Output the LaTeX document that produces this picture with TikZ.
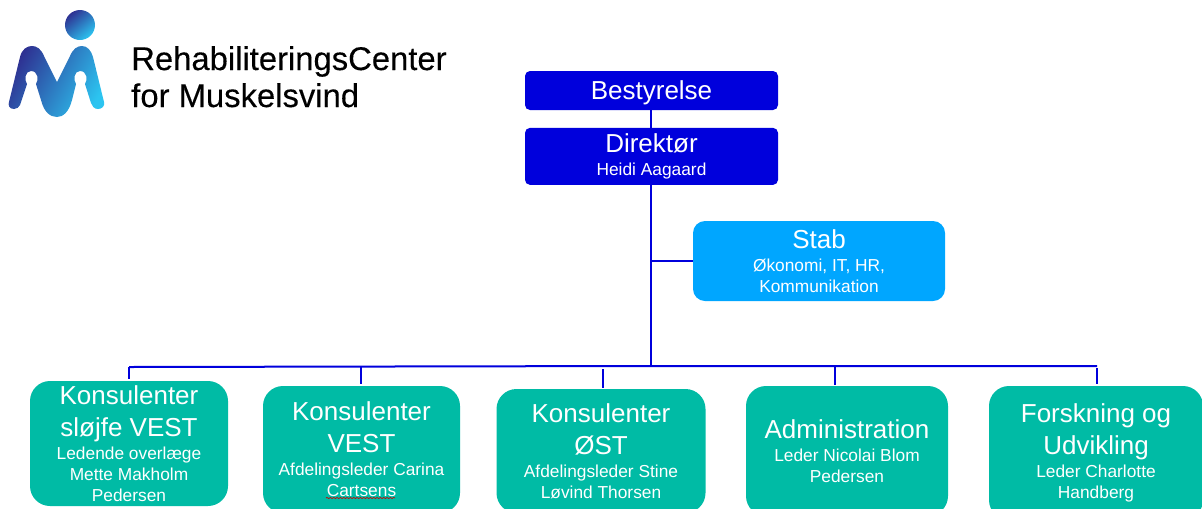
\documentclass[tikz,border=0pt]{standalone}
\usepackage{xcolor}
\usepackage{fontspec}
\setmainfont{Liberation Sans}
\newfontfamily\logofont[FakeBold=0.25]{Liberation Sans}
\usetikzlibrary{positioning,decorations.pathmorphing}

\definecolor{boardblue}{HTML}{0000DC}
\definecolor{stabblue}{HTML}{00A6FF}
\definecolor{deptteal}{HTML}{00BBA5}
\definecolor{logodark}{HTML}{2E3192}
\definecolor{logomid}{HTML}{1F7CC0}
\definecolor{logolight}{HTML}{2CC4F0}

\newcommand{\headfont}{\fontsize{19.5}{24}\selectfont}
\newcommand{\subfont}{\fontsize{13}{15.75}\selectfont}

\begin{document}
\begin{tikzpicture}[
    x=0.75pt, y=-0.75pt,
    topbox/.style={rectangle, fill=boardblue, text=white, rounded corners=3.75pt, minimum width=189.75pt, inner sep=0pt, align=center, font=\subfont},
    stabbox/.style={rectangle, fill=stabblue, text=white, rounded corners=9pt, minimum width=189pt, minimum height=60pt, inner sep=0pt, align=center, font=\subfont},
    deptbox/.style={rectangle, fill=deptteal, text=white, rounded corners=15pt, inner sep=0pt, align=center, font=\subfont},
    orgline/.style={draw=boardblue, line width=1.5pt},
    logotext/.style={anchor=base west, inner sep=0pt, font=\logofont\fontsize{24.6}{28}\selectfont}
]
\useasboundingbox (0,0) rectangle (1202,508);
\clip (0,0) rectangle (1202,508);

% logo
\shade[top color=logodark, bottom color=logolight, shading angle=40] (80,25) circle (15);
\shade[top color=logodark, middle color=logomid, bottom color=logolight, shading angle=60]
    (14,109) .. controls (9,109) and (8,105) .. (9,102)
    -- (20,57) .. controls (22,49) and (27,46) .. (32,46)
    .. controls (37,46) and (41,49) .. (44,56)
    -- (57,82) -- (70,56)
    .. controls (73,49) and (77,46) .. (82,46)
    .. controls (87,46) and (91,50) .. (93,57)
    -- (104,102) .. controls (105,106) and (102,109) .. (98,109)
    .. controls (94,109) and (92,106) .. (91,103)
    -- (85,84) .. controls (88,80) and (87,71) .. (80,71)
    .. controls (74,71) and (73,80) .. (76,84)
    -- (72,100) .. controls (69,112) and (63,117) .. (57,117)
    .. controls (50,117) and (44,112) .. (41,100)
    -- (36,84) .. controls (39,80) and (38,71) .. (31,71)
    .. controls (25,71) and (24,80) .. (27,84)
    -- (20,105) .. controls (19,107) and (17,109) .. (14,109) -- cycle;
\node[logotext] (logoa) at (131,70) {RehabiliteringsCenter};
\node[logotext] (logob) at (131,107) {for Muskelsvind};

% boxes
\node[topbox, minimum height=29.25pt, text depth=0pt] (bestyrelse) at (651.5,90.5) {\headfont Bestyrelse};
\node[topbox, minimum height=42.75pt, below=13pt of bestyrelse] (direktor) {\headfont Direktør\\[1.5pt]\subfont Heidi Aagaard};
\node[stabbox] (stab) at (819,261) {\headfont Stab\\[2pt]\subfont Økonomi, IT, HR,\\\subfont Kommunikation};

\node[deptbox, minimum width=148.5pt, minimum height=93.75pt] (sloejfe) at (129,443.5) {\headfont Konsulenter\\[8.25pt]\headfont sløjfe VEST\\[1.5pt]\subfont Ledende overlæge\\\subfont Mette Makholm\\\subfont Pedersen};
\node[deptbox, minimum width=147.75pt, minimum height=95.25pt] (vest) at (361.5,449.5) {\headfont Konsulenter\\[8.25pt]\headfont VEST\\[1.5pt]\subfont Afdelingsleder Carina\\\subfont Cartsens};
\node[deptbox, minimum width=156.75pt, minimum height=93pt] (oest) at (601,451) {\headfont Konsulenter\\[8.25pt]\headfont ØST\\[1.5pt]\subfont Afdelingsleder Stine\\\subfont Løvind Thorsen};
\node[deptbox, minimum width=151.5pt, minimum height=97.5pt] (admin) at (847,451) {\headfont Administration\\[1.5pt]\subfont Leder Nicolai Blom\\\subfont Pedersen};
\node[deptbox, minimum width=160.5pt, minimum height=100.5pt] (forskning) at (1096,453) {\headfont Forskning og\\[5.25pt]\headfont Udvikling\\[1.5pt]\subfont Leder Charlotte\\\subfont Handberg};

% spell check mark
\draw[red!80!black, line width=0.5pt, decorate, decoration={snake, amplitude=0.45pt, segment length=2.5pt}] (326,498) -- (395,498);

% connectors
\coordinate (busleft) at (129,367);
\coordinate (busmid) at (651,366);
\coordinate (busright) at (1097,366);
\coordinate (dropb) at (361,366);
\coordinate (dropc) at (603,369);
\coordinate (dropd) at (835,366);
\coordinate (drope) at (1097,368);
\coordinate (endb) at (361,384);
\coordinate (endc) at (603,388);
\coordinate (endd) at (835,385);
\coordinate (ende) at (1097,384);
\coordinate (enda) at (129,379);

\draw[orgline] (bestyrelse.south -| busmid) -- (direktor.north -| busmid);
\draw[orgline] (direktor.south -| busmid) -- (busmid);
\draw[orgline] (stab.west) -- (stab.west -| busmid);
\draw[orgline] (busleft) -- (busmid) -- (busright);
\draw[orgline] (busleft) -- (enda);
\draw[orgline] (dropb) -- (endb);
\draw[orgline] (dropc) -- (endc);
\draw[orgline] (dropd) -- (endd);
\draw[orgline] (drope) -- (ende);

\end{tikzpicture}
\end{document}
